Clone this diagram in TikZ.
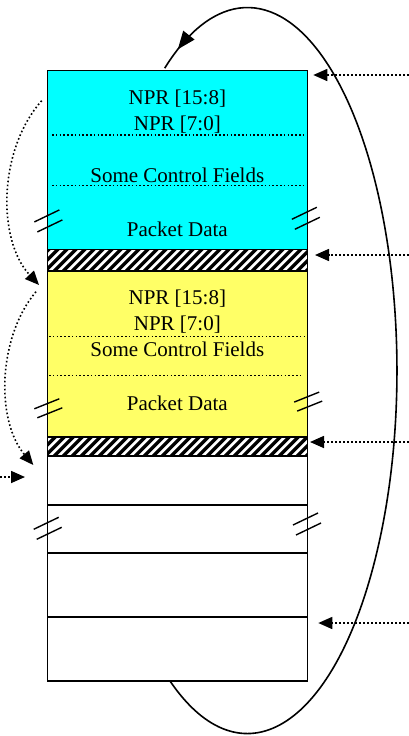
\documentclass[tikz,border=0pt]{standalone}
\usepackage{fontspec}
\setmainfont{Liberation Serif}
\usetikzlibrary{arrows.meta,positioning,decorations.markings}
\definecolor{pktcyan}{HTML}{00FFFF}
\definecolor{pktyellow}{HTML}{FFFF66}

\begin{document}
\begin{tikzpicture}[x=1pt, y=-1pt, node distance=0pt, every node/.style={font=\fontsize{21}{25}\selectfont}]
    \tikzstyle{slot}=[draw=black,line width=1.5pt,minimum width=260pt,inner sep=0pt,outer sep=0pt]
    \tikzstyle{stripe}=[line width=3.4pt]
    \tikzstyle{field}=[anchor=base,inner sep=0pt]
    \tikzstyle{sep}=[line width=1.5pt,dash pattern=on 1.5pt off 2.3pt]
    \tikzstyle{ptr}=[-{Triangle[length=14pt,width=12pt]},line width=1.6pt,dash pattern=on 1.6pt off 2.4pt]
    \tikzstyle{brk}=[line width=1.4pt]
    \useasboundingbox (0,0) rectangle (409,736);
    \node[slot,fill=pktcyan,minimum height=179.2pt] (pkt1) at (177.3,159.9) {};
    \node[slot,minimum height=21.5pt,below=of pkt1] (gap1) {};
    \node[slot,fill=pktyellow,minimum height=166pt,below=of gap1] (pkt2) {};
    \node[slot,minimum height=19pt,below=of pkt2] (gap2) {};
    \node[slot,minimum height=49pt,below=of gap2] (buf1) {};
    \node[slot,minimum height=48pt,below=of buf1] (buf2) {};
    \node[slot,minimum height=64pt,below=of buf2] (buf3) {};
    \node[slot,minimum height=64pt,below=of buf3] (buf4) {};
    % hatched gaps
    \begin{scope}
        \clip (gap1.south west) rectangle (gap1.north east);
        \foreach \x in {-20,-11,...,270} \draw[stripe] ([xshift=\x pt]gap1.south west) -- +(24,-24);
    \end{scope}
    \begin{scope}
        \clip (gap2.south west) rectangle (gap2.north east);
        \foreach \x in {-20,-11,...,270} \draw[stripe] ([xshift=\x pt]gap2.south west) -- +(24,-24);
    \end{scope}
    \draw[slot] (gap1.south west) rectangle (gap1.north east);
    \draw[slot] (gap2.south west) rectangle (gap2.north east);
    % first packet
    \node[field] (hi1) at ([yshift=-34pt]pkt1.north) {NPR [15:8]};
    \node[field] (lo1) at ([yshift=-59.7pt]pkt1.north) {NPR [7:0]};
    \node[field] (ctl1) at ([yshift=-112.4pt]pkt1.north) {Some Control Fields};
    \node[field] (dat1) at ([yshift=-165.7pt]pkt1.north) {Packet Data};
    \draw[sep] ([shift={(4.7,64.7)}]pkt1.north west) -- ([shift={(-2.3,64.7)}]pkt1.north east);
    \draw[sep] ([shift={(4.7,115.4)}]pkt1.north west) -- ([shift={(-2.3,115.4)}]pkt1.north east);
    % second packet
    \node[field] (hi2) at ([yshift=-33pt]pkt2.north) {NPR [15:8]};
    \node[field] (lo2) at ([yshift=-59.7pt]pkt2.north) {NPR [7:0]};
    \node[field] (ctl2) at ([yshift=-85.7pt]pkt2.north) {Some Control Fields};
    \node[field] (dat2) at ([yshift=-139.7pt]pkt2.north) {Packet Data};
    \draw[sep] ([shift={(1.7,65.7)}]pkt2.north west) -- ([shift={(-2.3,65.7)}]pkt2.north east);
    \draw[sep] ([shift={(1.7,104.7)}]pkt2.north west) -- ([shift={(-6.3,104.7)}]pkt2.north east);
    % break marks
    \draw[brk] (48.4,220.9) +(-14,1) -- +(11,-11) +(-11,11) -- +(14,-1);
    \draw[brk] (305.8,218.3) +(-14,1) -- +(11,-11) +(-11,11) -- +(14,-1);
    \draw[brk] (48.3,407.8) +(-14,1) -- +(11,-9) +(-11,10) -- +(14,0);
    \draw[brk] (308.2,401.1) +(-14,1) -- +(11,-9) +(-11,10) -- +(14,0);
    \draw[brk] (47.7,528.3) +(-14,1) -- +(11,-11) +(-11,11) -- +(14,-1);
    \draw[brk] (307,524) +(-14,1) -- +(11,-11) +(-11,11) -- +(14,-1);
    % incoming pointers
    \coordinate (src1) at (409,75);
    \coordinate (src2) at (409,255);
    \coordinate (src3) at (409,442);
    \coordinate (src4) at (409,623);
    \coordinate (src5) at (0,477);
    \draw[ptr,shorten >=6pt] (src1) -- (src1 -| pkt1.east);
    \draw[ptr,shorten >=7.7pt] (src2) -- (src2 -| gap1.east);
    \draw[ptr,shorten >=2.7pt] (src3) -- (src3 -| gap2.east);
    \draw[ptr,shorten >=11pt] (src4) -- (src4 -| buf4.east);
    \draw[ptr,shorten >=22.3pt] (src5) -- (src5 -| buf1.west);
    % next packet pointers
    \draw[ptr] ([shift={(-5.6,30.4)}]pkt1.north west) .. controls +(-43.7,49.3) and +(-42,-45) .. ([shift={(-8.3,14)}]pkt2.north west);
    \draw[ptr] ([shift={(-11.3,20.7)}]pkt2.north west) .. controls +(-38,45) and +(-38,-45) .. ([shift={(-14,9)}]buf1.north west);
    % wrap around
    \draw[line width=1.6pt,postaction={decorate},decoration={markings,mark=at position 0.978 with {\arrow{Triangle[length=18pt,width=14pt]}}}] ([xshift=-7.3pt]buf4.south) arc[start angle=-121.2,end angle=123.6,x radius=149.5pt,y radius=363pt];
\end{tikzpicture}
\end{document}
